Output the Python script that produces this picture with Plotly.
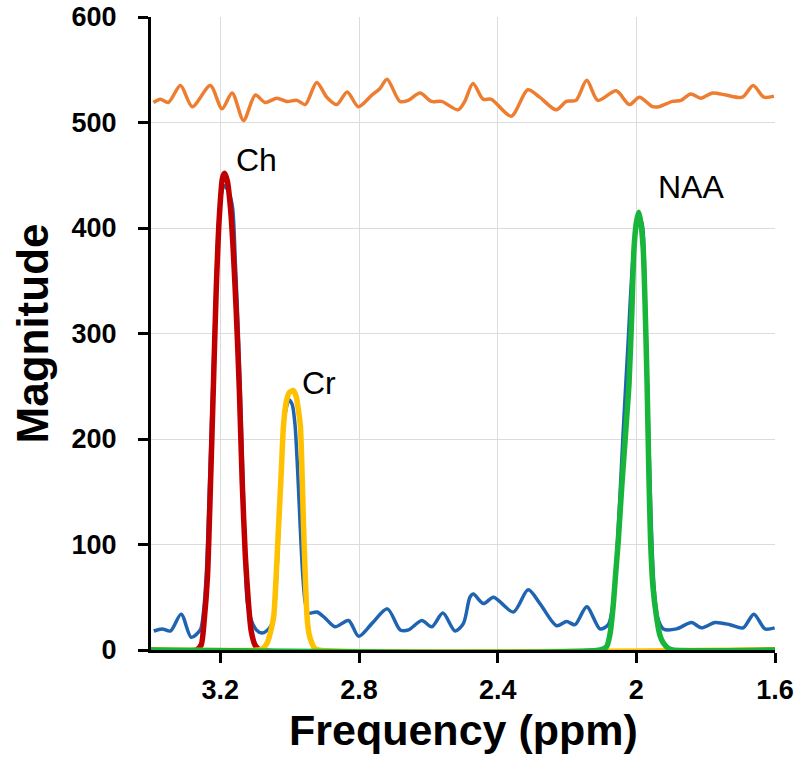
import plotly.graph_objects as go

# ---- data (ppm, magnitude) ----
blue_x = [3.392, 3.368, 3.344, 3.313, 3.284, 3.258, 3.249, 3.240, 3.232, 3.223, 3.214, 3.206, 3.197, 3.188,
          3.177, 3.165, 3.157, 3.148, 3.139, 3.131, 3.122, 3.108, 3.096, 3.080, 3.067, 3.051, 3.042, 3.033,
          3.024, 3.014, 3.002, 2.993, 2.985, 2.977, 2.970, 2.963, 2.955, 2.946, 2.921, 2.897, 2.869, 2.830,
          2.801, 2.763, 2.718, 2.681, 2.657, 2.619, 2.590, 2.558, 2.523, 2.499, 2.480, 2.470, 2.441, 2.412,
          2.355, 2.312, 2.278, 2.230, 2.201, 2.177, 2.143, 2.105, 2.081, 2.067, 2.053, 2.039, 2.024, 2.010,
          1.995, 1.984, 1.975, 1.967, 1.958, 1.949, 1.938, 1.922, 1.884, 1.841, 1.812, 1.773, 1.730, 1.692,
          1.661, 1.629, 1.601]
blue_y = [18, 20, 18, 34, 12, 19, 35, 75, 150, 240, 330, 400, 432, 440,
          435, 420, 370, 300, 210, 120, 45, 26, 19, 16, 18, 25, 45, 100,
          170, 222, 237, 233, 215, 170, 120, 75, 45, 35, 36, 30, 22, 28,
          13, 25, 39, 19, 19, 28, 22, 35, 18, 25, 50, 53, 44, 50,
          36, 57, 44, 23, 27, 24, 41, 20, 24, 45, 110, 200, 290, 370,
          410, 405, 340, 240, 130, 60, 30, 20, 20, 26, 21, 26, 24, 21,
          34, 20, 21]

orange_x = [3.393, 3.373, 3.350, 3.315, 3.281, 3.229, 3.195, 3.166, 3.133, 3.099, 3.071, 3.037, 3.008,
            2.979, 2.955, 2.922, 2.893, 2.864, 2.834, 2.802, 2.763, 2.740, 2.719, 2.682, 2.658, 2.624,
            2.591, 2.562, 2.514, 2.495, 2.471, 2.442, 2.418, 2.361, 2.313, 2.279, 2.231, 2.202, 2.174,
            2.143, 2.111, 2.058, 2.020, 1.991, 1.953, 1.934, 1.896, 1.871, 1.843, 1.814, 1.780, 1.742,
            1.694, 1.663, 1.632, 1.603]
orange_y = [519, 522, 519, 535, 515, 535, 513, 528, 502, 526, 519, 523, 520,
            521, 517, 538, 524, 517, 529, 515, 526, 532, 541, 520, 521, 528,
            520, 520, 512, 520, 537, 522, 522, 506, 531, 524, 512, 520, 521,
            540, 521, 530, 517, 524, 515, 515, 520, 521, 527, 523, 528, 526,
            524, 535, 524, 525]

ch_x = [3.40, 3.269, 3.255, 3.246, 3.237, 3.229, 3.220, 3.212, 3.203, 3.194, 3.188, 3.180, 3.171, 3.163,
        3.154, 3.145, 3.137, 3.128, 3.119, 3.111, 3.099, 3.085, 1.60]
ch_y = [0, 0, 5, 30, 70, 150, 250, 340, 410, 447, 452, 445, 420, 380,
        320, 245, 160, 90, 45, 18, 4, 0, 0]

cr_x = [3.40, 3.090, 3.079, 3.065, 3.056, 3.046, 3.039, 3.032, 3.024, 3.018, 3.010, 3.001, 2.989, 2.981,
        2.975, 2.969, 2.964, 2.960, 2.955, 2.950, 2.944, 2.936, 2.929, 2.918, 1.60]
cr_y = [0, 0, 1, 6.6, 16, 32, 70, 117, 170, 212, 235, 244, 246, 240,
        228, 212, 165, 117, 70, 32, 15, 6.6, 2, 0, 0]

naa_x = [3.40, 2.105, 2.086, 2.076, 2.067, 2.059, 2.052, 2.042, 2.030, 2.021, 2.013, 2.007, 2.000, 1.993,
         1.987, 1.980, 1.975, 1.969, 1.964, 1.959, 1.952, 1.942, 1.932, 1.922, 1.909, 1.895, 1.60]
naa_y = [0, 0, 3, 15, 41, 75, 104, 155, 210, 253, 320, 379, 405, 415,
         405, 379, 330, 253, 170, 104, 60, 32, 14, 6.6, 2, 0, 0]

labels = ["Ch", "Cr", "NAA"]
label_x = [3.160, 2.969, 1.942]
label_y = [464, 253, 439]

x_ticks = [3.2, 2.8, 2.4, 2.0, 1.6]
x_tick_text = ["3.2", "2.8", "2.4", "2", "1.6"]
y_ticks = [0, 100, 200, 300, 400, 500, 600]

FONT = "Liberation Sans, Arial, sans-serif"

fig = go.Figure()
fig.add_trace(go.Scatter(x=blue_x, y=blue_y, mode="lines",
                         line=dict(color="#1f64b0", width=3.5, shape="spline", smoothing=0.8)))
fig.add_trace(go.Scatter(x=orange_x, y=orange_y, mode="lines",
                         line=dict(color="#ED7D31", width=3.5, shape="spline", smoothing=0.8)))
fig.add_trace(go.Scatter(x=ch_x, y=ch_y, mode="lines",
                         line=dict(color="#C00000", width=5.5, shape="spline", smoothing=0.6)))
fig.add_trace(go.Scatter(x=cr_x, y=cr_y, mode="lines",
                         line=dict(color="#FFC000", width=5.5, shape="spline", smoothing=0.6)))
fig.add_trace(go.Scatter(x=naa_x, y=naa_y, mode="lines",
                         line=dict(color="#17b53a", width=5.5, shape="spline", smoothing=0.6)))

for t, lx, ly in zip(labels, label_x, label_y):
    fig.add_annotation(x=lx, y=ly, text=t, showarrow=False, xanchor="left", yanchor="middle",
                       font=dict(family=FONT, size=32, color="black"))

# x-axis title as a paper-anchored annotation
fig.add_annotation(x=0.5, y=-0.085, xref="paper", yref="paper", text="<b>Frequency (ppm)</b>",
                   showarrow=False, xanchor="center", yanchor="top",
                   font=dict(family=FONT, size=43, color="black"))

fig.update_layout(
    width=800, height=781,
    margin=dict(l=151, r=25, t=17, b=131),
    paper_bgcolor="white", plot_bgcolor="white",
    showlegend=False,
    xaxis=dict(range=[3.4, 1.6], tickvals=x_ticks, ticktext=x_tick_text, automargin=False,
               showgrid=True, gridcolor="#dcdcdc", gridwidth=1,
               showline=True, linecolor="black", linewidth=3, layer="below traces",
               ticks="outside", ticklen=10, tickwidth=3, tickcolor="black",
               tickfont=dict(family=FONT, size=27, color="black", weight="bold"),
               ticklabelstandoff=4, ticklabeloverflow="allow", zeroline=False),
    yaxis=dict(range=[0, 600], tickvals=y_ticks, automargin=False,
               showgrid=True, gridcolor="#dcdcdc", gridwidth=1,
               showline=True, linecolor="black", linewidth=3,
               ticks="outside", ticklen=10, tickwidth=3, tickcolor="black",
               tickfont=dict(family=FONT, size=27, color="black", weight="bold"),
               ticklabelstandoff=16, ticklabeloverflow="allow", zeroline=False,
               title=dict(text="<b>Magnitude</b>", font=dict(family=FONT, size=44, color="black"),
                          standoff=10)),
)

fig.write_html("out.html", config={"displayModeBar": False},
               post_script="document.body.style.margin='0';")
